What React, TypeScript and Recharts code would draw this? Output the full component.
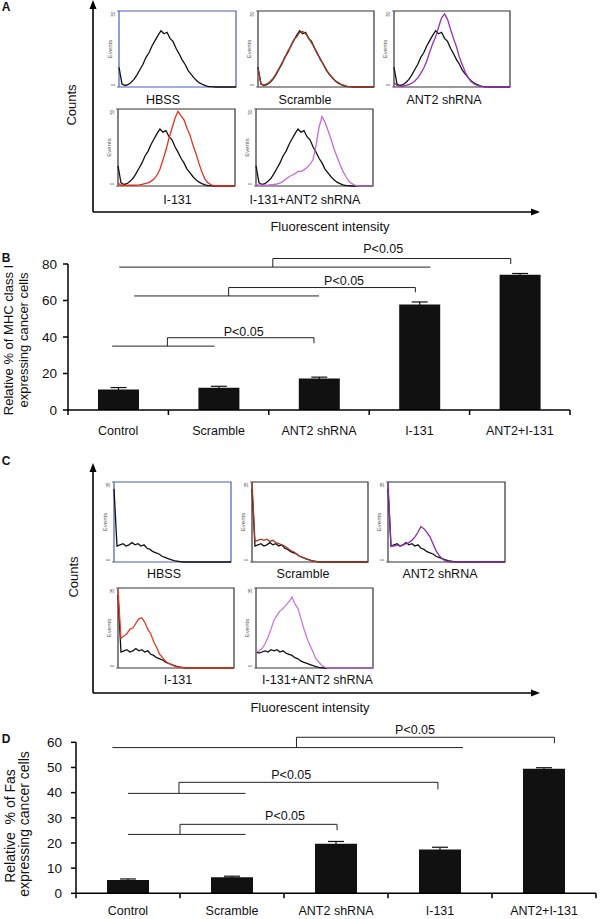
import React from 'react';
import {
  LineChart,
  Line,
  XAxis,
  YAxis,
  ReferenceArea,
  BarChart,
  Bar,
  ErrorBar,
  ReferenceLine,
  ReferenceDot,
} from 'recharts';

const FONT = '"Liberation Sans", Arial, Helvetica, sans-serif';

// ---- flow cytometry histograms, 40 bins each (panel A: Events 0-50) ----
const aControl = [13, 2, 1, 1.5, 3, 5, 8, 11.5, 15, 19.5, 22.5, 27, 30.5, 34, 37, 35, 36, 32, 30, 25.5, 22, 18, 15, 11, 8.5, 6, 4, 2.5, 1.5, 0.8, 0.3, 0.2, 0, 0, 0, 0, 0, 0, 0, 0];
const aScramble = [12, 2, 1.2, 2, 3.5, 5.5, 8.5, 12, 15.5, 19, 23.5, 26.5, 31, 33, 36, 36.5, 35, 32.5, 29, 26, 21.5, 18.5, 14.5, 11.5, 8, 6.5, 4, 3, 1.6, 1, 0.4, 0.2, 0, 0, 0, 0, 0, 0, 0, 0];
const aAnt2 = [3, 1, 0.5, 0.5, 1, 1.5, 2.5, 4, 6, 9, 12.5, 17, 23, 28.5, 33, 39.5, 45.5, 48, 44.5, 38, 32, 26.5, 19.5, 14.5, 9.5, 6, 3.5, 2, 1, 0.5, 0.2, 0, 0, 0, 0, 0, 0, 0, 0, 0];
const aI131 = [2, 0.5, 0.5, 0.4, 0.5, 0.6, 0.5, 0.7, 1, 1.6, 2, 3, 4.5, 7, 11, 17, 23.5, 31, 37.5, 44, 48.5, 45.5, 43, 37.5, 33, 26.5, 21, 14.5, 9, 4.5, 2, 0.8, 0.3, 0, 0, 0, 0, 0, 0, 0];
const aCombo = [1, 0.5, 0.5, 0.5, 0.5, 0.8, 1, 1.3, 1.8, 3, 4.5, 6, 7, 8, 9.5, 9.5, 10.5, 12, 14, 17, 26, 38, 45, 41.5, 36, 30.5, 24, 19, 14, 9.5, 6, 3, 1.5, 0.5, 0, 0, 0, 0, 0, 0];

// ---- panel C: Events 0-35 ----
const cControl = [32, 7, 7.5, 8, 7, 7.5, 8.5, 7.5, 8, 7, 7.5, 6, 5.5, 4.5, 4, 3.5, 2.5, 2, 1.5, 1, 0.6, 0.4, 0.2, 0, 0, 0, 0, 0, 0, 0, 0, 0, 0, 0, 0, 0, 0, 0, 0, 0];
const cControlFlat = [7, 6.5, 7, 7.5, 7, 8, 7.5, 8, 7, 7.5, 6.5, 6, 5.5, 4.5, 4, 3, 2.5, 2, 1.5, 1, 0.6, 0.3, 0.1, 0, 0, 0, 0, 0, 0, 0, 0, 0, 0, 0, 0, 0, 0, 0, 0, 0];
const cScramble = [35, 9, 9.5, 10, 9.5, 10, 9, 9.5, 8.5, 8, 7.5, 7, 6, 5, 4.5, 3.5, 2.5, 2, 1.5, 1, 0.6, 0.3, 0.1, 0, 0, 0, 0, 0, 0, 0, 0, 0, 0, 0, 0, 0, 0, 0, 0, 0];
const cAnt2 = [35, 7, 7, 7.5, 7, 7.5, 8, 8.5, 9.5, 11, 13, 15.5, 14.5, 13, 11, 8, 5, 3, 1.5, 0.6, 0.2, 0, 0, 0, 0, 0, 0, 0, 0, 0, 0, 0, 0, 0, 0, 0, 0, 0, 0, 0];
const cI131 = [34.5, 13, 14, 15, 17, 17.5, 19.5, 21.5, 22, 20, 17, 15, 11.5, 9, 6, 4.5, 3, 2, 1.5, 0.8, 0.4, 0.2, 0, 0, 0, 0, 0, 0, 0, 0, 0, 0, 0, 0, 0, 0, 0, 0, 0, 0];
const cCombo = [7, 7.5, 8.5, 10.5, 13.5, 17, 21, 23, 25, 26, 27.5, 29, 31, 28, 26, 21.5, 17, 13, 10, 7, 4, 2.5, 1, 0.4, 0, 0, 0, 0, 0, 0, 0, 0, 0, 0, 0, 0, 0, 0, 0, 0];

const histTitles = ['HBSS', 'Scramble', 'ANT2 shRNA', 'I-131', 'I-131+ANT2 shRNA'];
const aEventsMax = 50;
const cEventsMax = 35;

// log-decade tick marks along the bottom of each histogram
const decadeStarts = [0, 9.75, 19.5, 29.25];
const logSteps = [0.301, 0.477, 0.602, 0.699, 0.778, 0.845, 0.903, 0.954];
const histTicks = decadeStarts.flatMap((d) => [d, ...logSteps.map((f) => d + f * 9.75)]).concat([39]);

// ---- bar charts ----
const categories = ['Control', 'Scramble', 'ANT2 shRNA', 'I-131', 'ANT2+I-131'];
const categoryPos = [0.5, 1.5, 2.5, 3.5, 4.5];
const boundaryTicks = [0, 0.5, 1, 1.5, 2, 2.5, 3, 3.5, 4, 4.5, 5];

const mhcValues = [11.3, 12.2, 17.3, 57.8, 74.1];
const mhcErrors = [1.0, 0.8, 0.7, 1.4, 0.7];
const mhcTicks = [0, 20, 40, 60, 80];
// [x1, x2, y]
const mhcGroupLines = [[0.44, 1.46, 35.0], [0.66, 2.5, 62.5], [0.51, 3.61, 78.3]];
// [xLeft, xRight, yBase, yTop, yRightEnd]
const mhcBrackets = [[0.99, 2.45, 35.0, 39.6, 36.6], [1.6, 3.46, 62.5, 67.1, 64.5], [2.04, 4.41, 78.3, 83.0, 80.0]];
const mhcLabels = [[1.75, 42.9], [2.75, 71.0], [3.14, 88.6]];

const fasValues = [5.3, 6.4, 19.7, 17.4, 49.5];
const fasErrors = [0.4, 0.4, 0.9, 0.9, 0.4];
const fasTicks = [0, 10, 20, 30, 40, 50, 60];
const fasGroupLines = [[0.35, 3.72, 57.9], [0.5, 1.63, 39.7], [0.5, 1.63, 23.4]];
const fasBrackets = [[2.12, 4.6, 57.9, 62.0, 59.6], [0.99, 3.48, 39.7, 44.1, 41.3], [1.0, 2.51, 23.4, 27.4, 25.1]];
const fasLabels = [[3.26, 65.0], [2.07, 47.0], [2.01, 30.9]];

const pLabel = 'P<0.05';

type Trace = { values: number[]; color: string };

function TinyTick(props: any) {
  const { x, y, payload, yMax } = props;
  const tx = x - 1.5;
  const ty = payload.value === yMax ? y + 3 : y - 2;
  return (
    <text x={tx} y={ty} transform={`rotate(-90 ${tx} ${ty})`} textAnchor="middle" dominantBaseline="central" fontSize={4.5} fill="#555" fontFamily={FONT}>
      {payload.value}
    </text>
  );
}

function EventsLabel(props: any) {
  const vb = props.viewBox || { x: 0, y: 0, width: 0, height: 0 };
  const cx = vb.x + 5;
  const cy = vb.y + vb.height / 2;
  return (
    <text x={cx} y={cy} transform={`rotate(-90 ${cx} ${cy})`} textAnchor="middle" dominantBaseline="central" fontSize={6} fill="#555" fontFamily={FONT}>
      Events
    </text>
  );
}

function FlowHist({ left, top, width, height, yMax, border, traces }: {
  left: number; top: number; width: number; height: number; yMax: number; border: string; traces: Trace[];
}) {
  const rows = traces[0].values.map((_, i) => {
    const row: Record<string, number> = { bin: i };
    traces.forEach((t, k) => {
      row['s' + k] = t.values[i];
    });
    return row;
  });
  return (
    <div style={{ position: 'absolute', left: left - 14, top: top - 1 }}>
      <LineChart width={width + 15} height={height + 6} data={rows} margin={{ top: 1, right: 1, left: 0, bottom: 0 }}>
        <XAxis dataKey="bin" type="number" domain={[0, 39]} ticks={histTicks} interval={0} tick={false} tickSize={2} axisLine={false} height={5} stroke="#777" />
        <YAxis type="number" domain={[0, yMax]} ticks={[0, yMax]} interval={0} width={14} axisLine={false} tickSize={2} stroke="#777" tick={<TinyTick yMax={yMax} />} label={<EventsLabel />} />
        <ReferenceArea x1={0} x2={39} y1={0} y2={yMax} fill="none" stroke={border} strokeWidth={1.2} ifOverflow="visible" />
        {traces.map((t, k) => (
          <Line key={k} dataKey={'s' + k} stroke={t.color} strokeWidth={1.3} dot={false} type="linear" isAnimationActive={false} />
        ))}
      </LineChart>
    </div>
  );
}

function CategoryTick(props: any) {
  const { x, y, payload, names, offset } = props;
  const v = payload.value;
  if (Number.isInteger(v)) {
    return <line x1={x} y1={y} x2={x} y2={y + 5} stroke="#000" strokeWidth={1.5} />;
  }
  return (
    <text x={x} y={y + offset} textAnchor="middle" fontSize={12.5} fill="#111" fontFamily={FONT}>
      {names[Math.floor(v)]}
    </text>
  );
}

function SigBars({ top, height, plotTop, yAxisWidth, rightMargin, xAxisHeight, tickMargin, labelOffset, barSize, values, errors, yTicks, groupLines, brackets, labels }: any) {
  const rows = categoryPos.map((p, i) => ({ pos: p, value: values[i], err: errors[i] }));
  const line = { stroke: '#222', strokeWidth: 1, ifOverflow: 'visible' as const };
  return (
    <div style={{ position: 'absolute', left: 0, top }}>
      <BarChart width={600} height={height} data={rows} margin={{ top: plotTop, right: rightMargin, left: 0, bottom: 0 }}>
        <XAxis dataKey="pos" type="number" domain={[0, 5]} ticks={boundaryTicks} interval={0} tickLine={false} tickSize={0} tickMargin={0} height={xAxisHeight} axisLine={{ stroke: '#000', strokeWidth: 1.5 }} tick={<CategoryTick names={categories} offset={labelOffset} />} />
        <YAxis type="number" domain={[0, yTicks[yTicks.length - 1]]} ticks={yTicks} interval={0} width={yAxisWidth} tickSize={5} tickMargin={tickMargin} axisLine={{ stroke: '#000', strokeWidth: 1.5 }} tickLine={{ stroke: '#000', strokeWidth: 1.5 }} tick={{ fontSize: 13.5, fill: '#111', fontFamily: FONT }} />
        <Bar dataKey="value" fill="#111" barSize={barSize} isAnimationActive={false}>
          <ErrorBar dataKey="err" width={8} stroke="#111" strokeWidth={1.2} direction="y" isAnimationActive={false} />
        </Bar>
        {groupLines.map(([x1, x2, y]: number[], i: number) => (
          <ReferenceLine key={'g' + i} segment={[{ x: x1, y }, { x: x2, y }]} {...line} />
        ))}
        {brackets.map(([xl, xr, yb, yt, ye]: number[], i: number) => [
          <ReferenceLine key={'bl' + i} segment={[{ x: xl, y: yb }, { x: xl, y: yt }]} {...line} />,
          <ReferenceLine key={'bt' + i} segment={[{ x: xl, y: yt }, { x: xr, y: yt }]} {...line} />,
          <ReferenceLine key={'br' + i} segment={[{ x: xr, y: yt }, { x: xr, y: ye }]} {...line} />,
        ])}
        {labels.map(([lx, ly]: number[], i: number) => (
          <ReferenceDot key={'l' + i} x={lx} y={ly} r={0} fill="none" stroke="none" ifOverflow="visible" label={{ value: pLabel, position: 'center', fontSize: 12.5, fill: '#111', fontFamily: FONT }} />
        ))}
      </BarChart>
    </div>
  );
}

function Txt({ x, y, children, size = 12.5, rotate = false, bold = false }: any) {
  return (
    <div
      style={{
        position: 'absolute', left: x, top: y,
        transform: `translate(-50%, -50%)${rotate ? ' rotate(-90deg)' : ''}`,
        fontSize: size, fontFamily: FONT, fontWeight: bold ? 700 : 400,
        whiteSpace: 'pre', lineHeight: 1, color: '#111',
      }}
    >
      {children}
    </div>
  );
}

function Arrows({ tipY, baseY }: { tipY: number; baseY: number }) {
  return (
    <>
      <line x1={93} y1={baseY} x2={93} y2={tipY + 8} stroke="#000" strokeWidth={1.6} />
      <polygon points={`93,${tipY} 89.5,${tipY + 9} 96.5,${tipY + 9}`} fill="#000" />
      <line x1={93} y1={baseY} x2={532} y2={baseY} stroke="#000" strokeWidth={1.6} />
      <polygon points={`540,${baseY} 531,${baseY - 3.5} 531,${baseY + 3.5}`} fill="#000" />
    </>
  );
}

const BLACK = '#111';
const BLUE_BOX = '#4a5cc0';
const BOX = '#333';

export default function App() {
  return (
    <div style={{ position: 'absolute', left: 0, top: 0, width: 600, height: 919, background: '#fff', overflow: 'hidden' }}>
      <svg width={600} height={919} style={{ position: 'absolute', left: 0, top: 0 }}>
        <Arrows tipY={0} baseY={212} />
        <Arrows tipY={463} baseY={693} />
      </svg>

      {/* Panel A */}
      <Txt x={6} y={7} size={12} bold>A</Txt>
      <Txt x={71} y={105} size={13} rotate>Counts</Txt>
      <Txt x={330} y={226} size={13}>Fluorescent intensity</Txt>
      <FlowHist left={119} top={11} width={117} height={76} yMax={aEventsMax} border={BLUE_BOX} traces={[{ values: aControl, color: BLACK }]} />
      <FlowHist left={258} top={11} width={116} height={76} yMax={aEventsMax} border={BOX} traces={[{ values: aControl, color: BLACK }, { values: aScramble, color: '#a33a28' }]} />
      <FlowHist left={394} top={11} width={116} height={76} yMax={aEventsMax} border={BOX} traces={[{ values: aControl, color: BLACK }, { values: aAnt2, color: '#9a2fb5' }]} />
      <FlowHist left={118} top={109} width={117} height={77} yMax={aEventsMax} border={BOX} traces={[{ values: aControl, color: BLACK }, { values: aI131, color: '#e8311f' }]} />
      <FlowHist left={256} top={109} width={117} height={77} yMax={aEventsMax} border={BOX} traces={[{ values: aControl, color: BLACK }, { values: aCombo, color: '#c66ad6' }]} />
      <Txt x={163} y={99.5}>{histTitles[0]}</Txt>
      <Txt x={305} y={99.5}>{histTitles[1]}</Txt>
      <Txt x={444} y={99.5}>{histTitles[2]}</Txt>
      <Txt x={177.5} y={200}>{histTitles[3]}</Txt>
      <Txt x={305} y={200}>{histTitles[4]}</Txt>

      {/* Panel B */}
      <Txt x={6} y={258} size={12} bold>B</Txt>
      <Txt x={8} y={340} size={13} rotate>Relative % of MHC class I</Txt>
      <Txt x={23} y={340} size={13} rotate>expressing cancer cells</Txt>
      <SigBars
        top={236} height={204} plotTop={28} yAxisWidth={68} rightMargin={30} xAxisHeight={30} tickMargin={6} labelOffset={25} barSize={41}
        values={mhcValues} errors={mhcErrors} yTicks={mhcTicks}
        groupLines={mhcGroupLines} brackets={mhcBrackets} labels={mhcLabels}
      />

      {/* Panel C */}
      <Txt x={6} y={460.5} size={12} bold>C</Txt>
      <Txt x={72.7} y={577} size={13} rotate>Counts</Txt>
      <Txt x={310} y={707} size={13}>Fluorescent intensity</Txt>
      <FlowHist left={114} top={482} width={117} height={80} yMax={cEventsMax} border={BLUE_BOX} traces={[{ values: cControl, color: BLACK }]} />
      <FlowHist left={252} top={482} width={116} height={80} yMax={cEventsMax} border={BOX} traces={[{ values: cControl, color: BLACK }, { values: cScramble, color: '#a33a28' }]} />
      <FlowHist left={388} top={482} width={117} height={80} yMax={cEventsMax} border={BOX} traces={[{ values: cControl, color: BLACK }, { values: cAnt2, color: '#8e2ca8' }]} />
      <FlowHist left={118} top={588} width={116} height={80} yMax={cEventsMax} border={BOX} traces={[{ values: cControl, color: BLACK }, { values: cI131, color: '#e83a28' }]} />
      <FlowHist left={256} top={588} width={117} height={80} yMax={cEventsMax} border={BOX} traces={[{ values: cControlFlat, color: BLACK }, { values: cCombo, color: '#c777da' }]} />
      <Txt x={164} y={574}>{histTitles[0]}</Txt>
      <Txt x={303} y={574}>{histTitles[1]}</Txt>
      <Txt x={440} y={574}>{histTitles[2]}</Txt>
      <Txt x={178} y={680}>{histTitles[3]}</Txt>
      <Txt x={317.5} y={680}>{histTitles[4]}</Txt>

      {/* Panel D */}
      <Txt x={6} y={739} size={12} bold>D</Txt>
      <Txt x={10} y={826} size={14} rotate>{'Relative  % of Fas'}</Txt>
      <Txt x={24} y={824} size={14} rotate>expressing cancer cells</Txt>
      <SigBars
        top={715} height={204} plotTop={27.3} yAxisWidth={76} rightMargin={4} xAxisHeight={25.7} tickMargin={9} labelOffset={22} barSize={42}
        values={fasValues} errors={fasErrors} yTicks={fasTicks}
        groupLines={fasGroupLines} brackets={fasBrackets} labels={fasLabels}
      />
    </div>
  );
}
